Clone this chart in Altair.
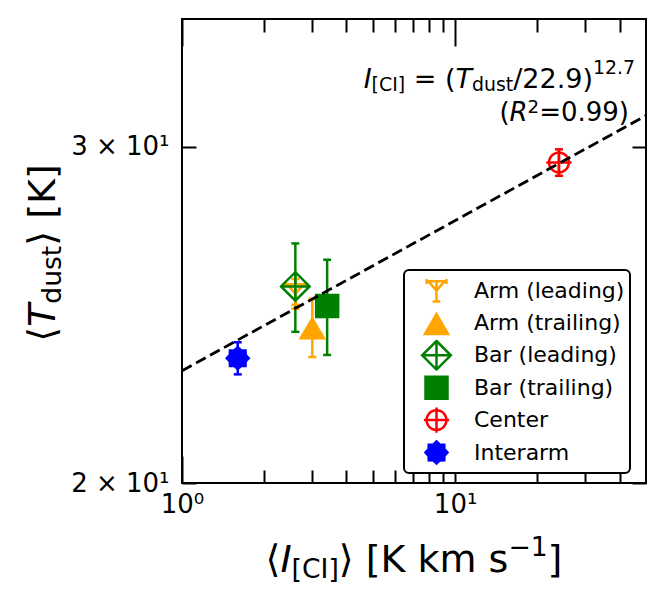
import math
import altair as alt
import pandas as pd

# ---------------- data ----------------
regions = ["Arm (leading)", "Arm (trailing)", "Bar (leading)", "Bar (trailing)", "Center", "Interarm"]
i_ci = [2.6, 3.0, 2.6, 3.4, 24.0, 1.6]
t_dust = [25.13, 24.13, 25.35, 24.76, 29.44, 23.25]
t_err = [0.45, 0.85, 1.35, 1.42, 0.47, 0.45]
region_colors = ["#ffa500", "#ffa500", "#008000", "#008000", "#ff0000", "#0000ff"]
region_filled = [False, True, False, True, False, True]

fit_i = [1.0, 50.0]
fit_t = [22.9, 31.15]

x_major_ticks = [1, 10]
x_minor_ticks = [2, 3, 4, 5, 6, 7, 8, 9, 20, 30, 40]
x_tick_labels = ["10\u2070", "10\u00b9"]
y_ticks = [20, 30]
y_tick_labels = ["2 \u00d7 10\u00b9", "3 \u00d7 10\u00b9"]

# ---------------- marker shapes (unit paths) ----------------
def poly(pts):
    return "M" + "L".join(f"{x:.3f},{y:.3f}" for x, y in pts) + "Z"

circle_pts = [(0.9 * math.cos(2 * math.pi * k / 32), 0.9 * math.sin(2 * math.pi * k / 32)) for k in range(32)]
star_pts = []
for k in range(16):
    a = math.pi * k / 8 - math.pi / 2
    r = 1.0 if k % 2 == 0 else 0.78
    star_pts.append((r * math.cos(a), r * math.sin(a)))

shape_paths = [
    "M-0.9,-0.85L0.9,-0.85M-0.9,-1.05L-0.9,-0.6M0.9,-1.05L0.9,-0.6M-0.75,-0.85L0,0L0.75,-0.85M0,-0.85L0,1M-0.35,1L0.35,1",
    "M0,-0.8L1.05,1L-1.05,1Z",
    "M0,-1.3L1.3,0L0,1.3L-1.3,0ZM0,-1.3L0,1.3M-1.3,0L1.3,0",
    "M-1,-1L1,-1L1,1L-1,1Z",
    poly(circle_pts) + "M0,-1.15L0,1.15M-1.15,0L1.15,0",
    poly(star_pts),
]
fill_range = [c if f else "transparent" for c, f in zip(region_colors, region_filled)]

df = pd.DataFrame({
    "region": regions,
    "I": i_ci,
    "T": t_dust,
    "lo": [t - e for t, e in zip(t_dust, t_err)],
    "hi": [t + e for t, e in zip(t_dust, t_err)],
    "col": region_colors,
})
fit_df = pd.DataFrame({"I": fit_i, "T": fit_t})

FONT = "DejaVu Sans"
W_PLOT, H_PLOT = 464, 464

xs = alt.Scale(type="log", domain=[1, 50], nice=False)
ys = alt.Scale(type="log", domain=[20, 35], nice=False)


def label_expr(vals, labels):
    expr = "''"
    for v, l in reversed(list(zip(vals, labels))):
        expr = f"datum.value == {v} ? '{l}' : {expr}"
    return expr


def tick_axis(orient, values, size):
    return alt.Axis(orient=orient, values=values, tickSize=size, offset=-size,
                    labels=False, domain=False, grid=False, ticks=True, title=None,
                    tickColor="black", tickWidth=2)


ax_x_lab = alt.Axis(orient="bottom", values=x_major_ticks,
                    labelExpr=label_expr(x_major_ticks, x_tick_labels),
                    ticks=False, domain=False, grid=False, title=None,
                    labelFontSize=26, labelPadding=8, labelFlush=False,
                    labelFont=FONT, labelColor="black", labelOverlap=False)
ax_y_lab = alt.Axis(orient="left", values=y_ticks,
                    labelExpr=label_expr(y_ticks, y_tick_labels),
                    ticks=False, domain=False, grid=False, title=None,
                    labelFontSize=26, labelPadding=13, labelFlush=False,
                    labelFont=FONT, labelColor="black", labelOverlap=False)

ident = alt.Color("col:N", scale=None, legend=None)

rules = alt.Chart(df).mark_rule(strokeWidth=2.5).encode(
    x=alt.X("I:Q", scale=xs, axis=tick_axis("bottom", x_major_ticks, 27)),
    y=alt.Y("lo:Q", scale=ys, axis=tick_axis("left", y_ticks, 14)),
    y2="hi:Q",
    color=ident,
)
caps_lo = alt.Chart(df).mark_tick(orient="horizontal", size=8, thickness=2.5, opacity=1).encode(
    x=alt.X("I:Q", scale=xs, axis=tick_axis("bottom", x_minor_ticks, 13)),
    y=alt.Y("lo:Q", scale=ys, axis=tick_axis("right", y_ticks, 14)),
    color=ident,
)
caps_hi = alt.Chart(df).mark_tick(orient="horizontal", size=8, thickness=2.5, opacity=1).encode(
    x=alt.X("I:Q", scale=xs, axis=tick_axis("top", x_major_ticks, 27)),
    y=alt.Y("hi:Q", scale=ys, axis=None),
    color=ident,
)

leg = alt.Legend(title=None, orient="none", legendX=222, legendY=251,
                 labelFontSize=22, labelFont=FONT, labelColor="black", labelLimit=400,
                 symbolSize=484, symbolStrokeWidth=2.5, rowPadding=1.4, padding=5,
                 clipHeight=31, labelOffset=25, symbolOffset=15, strokeColor="black",
                 cornerRadius=5, fillColor="white")

points = alt.Chart(df).mark_point(size=484, opacity=1, strokeWidth=2.5, filled=True).encode(
    x=alt.X("I:Q", scale=xs, axis=tick_axis("top", x_minor_ticks, 13)),
    y=alt.Y("T:Q", scale=ys, axis=None),
    shape=alt.Shape("region:N", scale=alt.Scale(domain=regions, range=shape_paths), legend=leg),
    fill=alt.Fill("region:N", scale=alt.Scale(domain=regions, range=fill_range), legend=leg),
    stroke=alt.Stroke("region:N", scale=alt.Scale(domain=regions, range=region_colors), legend=leg),
)

line = alt.Chart(fit_df).mark_line(color="black", strokeDash=[11, 5], strokeWidth=2.8).encode(
    x=alt.X("I:Q", scale=xs, axis=ax_x_lab),
    y=alt.Y("T:Q", scale=ys, axis=ax_y_lab),
)

# ---------------- rich text (sub/superscripts) ----------------
WID = {" ": 0.318, "(": 0.390, ")": 0.390, "[": 0.390, "]": 0.390, "=": 0.838, "/": 0.337,
       ".": 0.318, "C": 0.698, "I": 0.295, "K": 0.656, "T": 0.611, "R": 0.695, "d": 0.635,
       "u": 0.634, "s": 0.521, "t": 0.392, "k": 0.579, "m": 0.974, "\u2212": 0.838,
       "\u27e8": 0.390, "\u27e9": 0.390}
for dgt in "0123456789":
    WID[dgt] = 0.636


def tw(s, fs):
    return sum(WID.get(c, 0.6) for c in s) * fs


def rich(pieces, x, y, anchor="left", angle=0):
    total = sum(tw(t, fs) for t, fs, _, _ in pieces)
    start = 0 if anchor == "left" else (-total if anchor == "right" else -total / 2)
    out = []
    adv = start
    for text, fs, italic, shift in pieces:
        lead = len(text) - len(text.lstrip(" "))
        core = text.strip(" ")
        out.append(
            alt.Chart(alt.Data(values=[{"a": 1}])).mark_text(
                text=core, font=FONT, fontSize=fs, fontStyle="italic" if italic else "normal",
                align="left", baseline="alphabetic", dx=adv + lead * WID[" "] * fs, dy=shift,
                angle=angle, color="black",
            ).encode(x=alt.value(x), y=alt.value(y))
        )
        adv += tw(text, fs)
    return out


FT = 38
ST = FT * 0.7
FA = 27
SA = FA * 0.7
FB = 26
SB = FB * 0.7

x_title = rich([
    ("\u27e8", FT, False, 0), ("I", FT, True, 0), ("[CI]", ST, False, 0.15 * FT),
    ("\u27e9", FT, False, 0), (" [K km s", FT, False, 0), ("\u22121", ST, False, -0.42 * FT),
    ("]", FT, False, 0),
], W_PLOT / 2, 553, anchor="center")

y_title = rich([
    ("\u27e8", FT, False, 0), ("T", FT, True, 0), ("dust", ST, False, 0.15 * FT),
    ("\u27e9", FT, False, 0), (" [K]", FT, False, 0),
], -127, 234, anchor="center", angle=270)

ann1 = rich([
    ("I", FA, True, 0), ("[CI]", SA, False, 0.12 * FA), (" = (", FA, False, 0),
    ("T", FA, True, 0), ("dust", SA, False, 0.12 * FA), ("/22.9)", FA, False, 0),
    ("12.7", SA, False, -0.52 * FA),
], 453, 69, anchor="right")

ann2 = rich([
    ("(", FB, False, 0), ("R", FB, True, 0), ("2", SB, False, -0.32 * FB), ("=0.99)", FB, False, 0),
], 447, 102, anchor="right")

chart = alt.layer(
    rules, caps_lo, caps_hi, points, line, *x_title, *y_title, *ann1, *ann2
).resolve_axis(
    x="independent", y="independent"
).properties(
    width=W_PLOT, height=H_PLOT,
    padding={"left": 174, "top": 11, "right": 10, "bottom": 110},
    autosize=alt.AutoSizeParams(type="none"),
    background="white",
).configure_view(
    stroke="black", strokeWidth=2
).configure_legend(
    strokeWidth=2
)

chart.save("out.html", embed_options={"renderer": "svg", "actions": False})
